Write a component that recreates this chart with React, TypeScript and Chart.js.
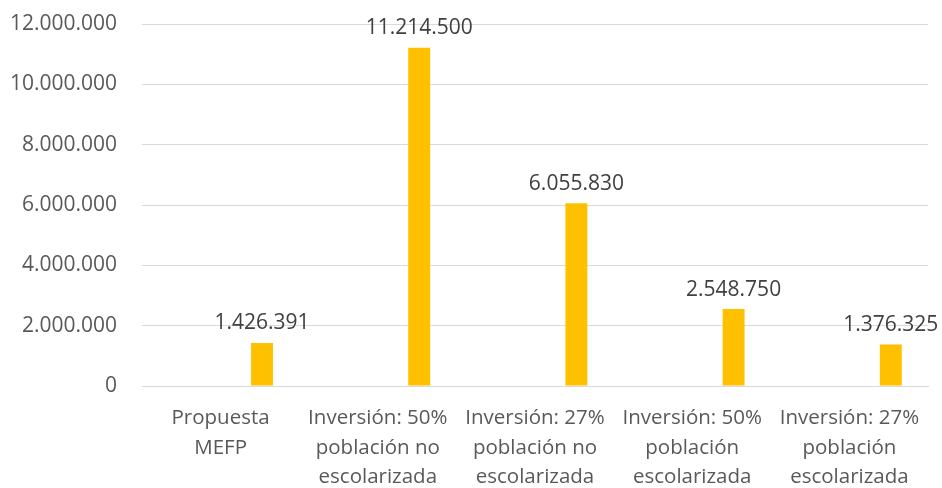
import React, { useEffect, useRef } from "react";
import { Chart, registerables } from "chart.js";

Chart.register(...registerables);

const categories: string[][] = [
  ["Propuesta", "MEFP"],
  ["Inversión: 50%", "población no", "escolarizada"],
  ["Inversión: 27%", "población no", "escolarizada"],
  ["Inversión: 50%", "población", "escolarizada"],
  ["Inversión: 27%", "población", "escolarizada"],
];
const values: number[] = [1426391, 11214500, 6055830, 2548750, 1376325];
const emptySeries: (number | null)[] = [null, null, null, null, null];
const yTicks: number[] = [0, 2000000, 4000000, 6000000, 8000000, 10000000, 12000000];

const fmt = (v: number) => Math.round(v).toString().replace(/\B(?=(\d{3})+(?!\d))/g, ".");

const FONT = "'Open Sans', 'Liberation Sans', sans-serif";

const labelPlugin = {
  id: "barLabels",
  afterDatasetsDraw(chart: any) {
    const ctx = chart.ctx;
    const meta = chart.getDatasetMeta(2);
    ctx.save();
    ctx.font = `21px ${FONT}`;
    ctx.fillStyle = "#404040";
    ctx.textAlign = "center";
    ctx.textBaseline = "bottom";
    meta.data.forEach((el: any, i: number) => {
      const p = el.getProps(["x", "y"], true);
      ctx.fillText(fmt(values[i]), p.x, p.y - 9);
    });
    ctx.restore();
  },
};

export default function App() {
  const ref = useRef<HTMLCanvasElement | null>(null);
  useEffect(() => {
    document.body.style.margin = "0";
    if (!ref.current) return;
    const chart = new Chart(ref.current, {
      type: "bar",
      data: {
        labels: categories,
        datasets: [
          { label: "a", data: emptySeries, backgroundColor: "#FFC000" },
          { label: "b", data: emptySeries, backgroundColor: "#FFC000" },
          { label: "Valor", data: values, backgroundColor: "#FFC000", borderWidth: 0 },
        ],
      },
      options: {
        responsive: false,
        animation: false,
        maintainAspectRatio: false,
        layout: { padding: { top: 24, right: 14, left: 0, bottom: 0 } },
        datasets: { bar: { categoryPercentage: 0.79, barPercentage: 0.53 } },
        plugins: {
          legend: { display: false },
          tooltip: { enabled: false },
        },
        scales: {
          x: {
            grid: { display: false, drawTicks: false },
            border: { display: true, color: "#d9d9d9", width: 1 },
            ticks: {
              color: "#595959",
              font: { family: FONT, size: 20.5, lineHeight: 1.42 },
              padding: 18,
              maxRotation: 0,
              autoSkip: false,
            },
            afterFit(scale: any) {
              scale.height = 102;
            },
          },
          y: {
            min: 0,
            max: 12000000,
            afterBuildTicks(scale: any) {
              scale.ticks = yTicks.map((v) => ({ value: v }));
            },
            grid: { color: "#d9d9d9", lineWidth: 1, drawTicks: false },
            border: { display: false },
            ticks: {
              color: "#595959",
              font: { family: FONT, size: 21 },
              padding: 25,
              callback: (v: any) => fmt(Number(v)),
            },
            afterFit(scale: any) {
              scale.width = 142;
              scale.paddingTop = 0;
            },
          },
        },
      },
      plugins: [labelPlugin],
    });
    return () => chart.destroy();
  }, []);
  return <canvas ref={ref} width={942} height={488} style={{ display: "block" }} />;
}
